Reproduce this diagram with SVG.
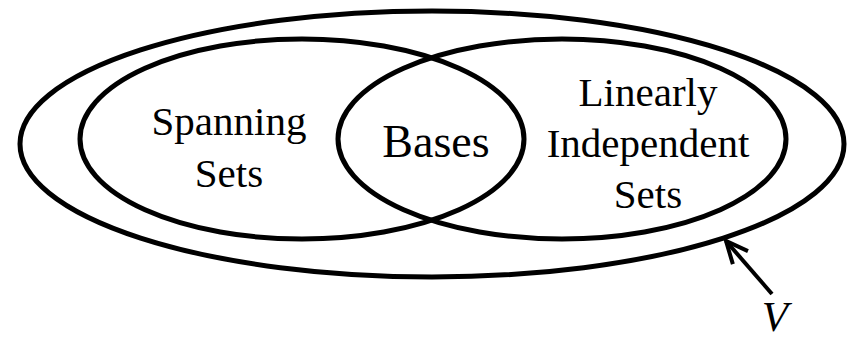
<svg xmlns="http://www.w3.org/2000/svg" width="856" height="339" viewBox="0 0 856 339">
<style>
.set{fill:none;stroke:#000;stroke-width:5}
.lbl{font-family:"Liberation Serif","Times New Roman",serif;font-size:41px;fill:#000;text-anchor:middle}
.conn{fill:none;stroke:#000;stroke-width:4}
</style>
<defs>
<marker id="open" markerUnits="userSpaceOnUse" markerWidth="40" markerHeight="40" viewBox="-30 -15 40 30" refX="0" refY="0" orient="auto">
<path d="M -22 -10 L 0 0 L -22 10" fill="none" stroke="#000" stroke-width="4"/>
</marker>
</defs>
<g id="V-set">
<ellipse class="set" cx="432" cy="144" rx="412" ry="133"/>
</g>
<g id="spanning-sets">
<ellipse class="set" cx="302" cy="139" rx="222" ry="100"/>
<text class="lbl" x="229" y="135">Spanning</text>
<text class="lbl" x="229" y="187">Sets</text>
</g>
<g id="independent-sets">
<ellipse class="set" cx="562" cy="139" rx="224" ry="100"/>
<text class="lbl" x="648" y="106">Linearly</text>
<text class="lbl" x="648" y="157">Independent</text>
<text class="lbl" x="648" y="208">Sets</text>
</g>
<g id="bases">
<text class="lbl" x="436" y="157" style="font-size:46px">Bases</text>
</g>
<g id="connectors">
<line class="conn" x1="772" y1="294" x2="726" y2="241" marker-end="url(#open)"/>
</g>
<g id="V-label">
<text class="lbl" x="775" y="331" style="font-size:43px;font-style:italic">V</text>
</g>
</svg>
